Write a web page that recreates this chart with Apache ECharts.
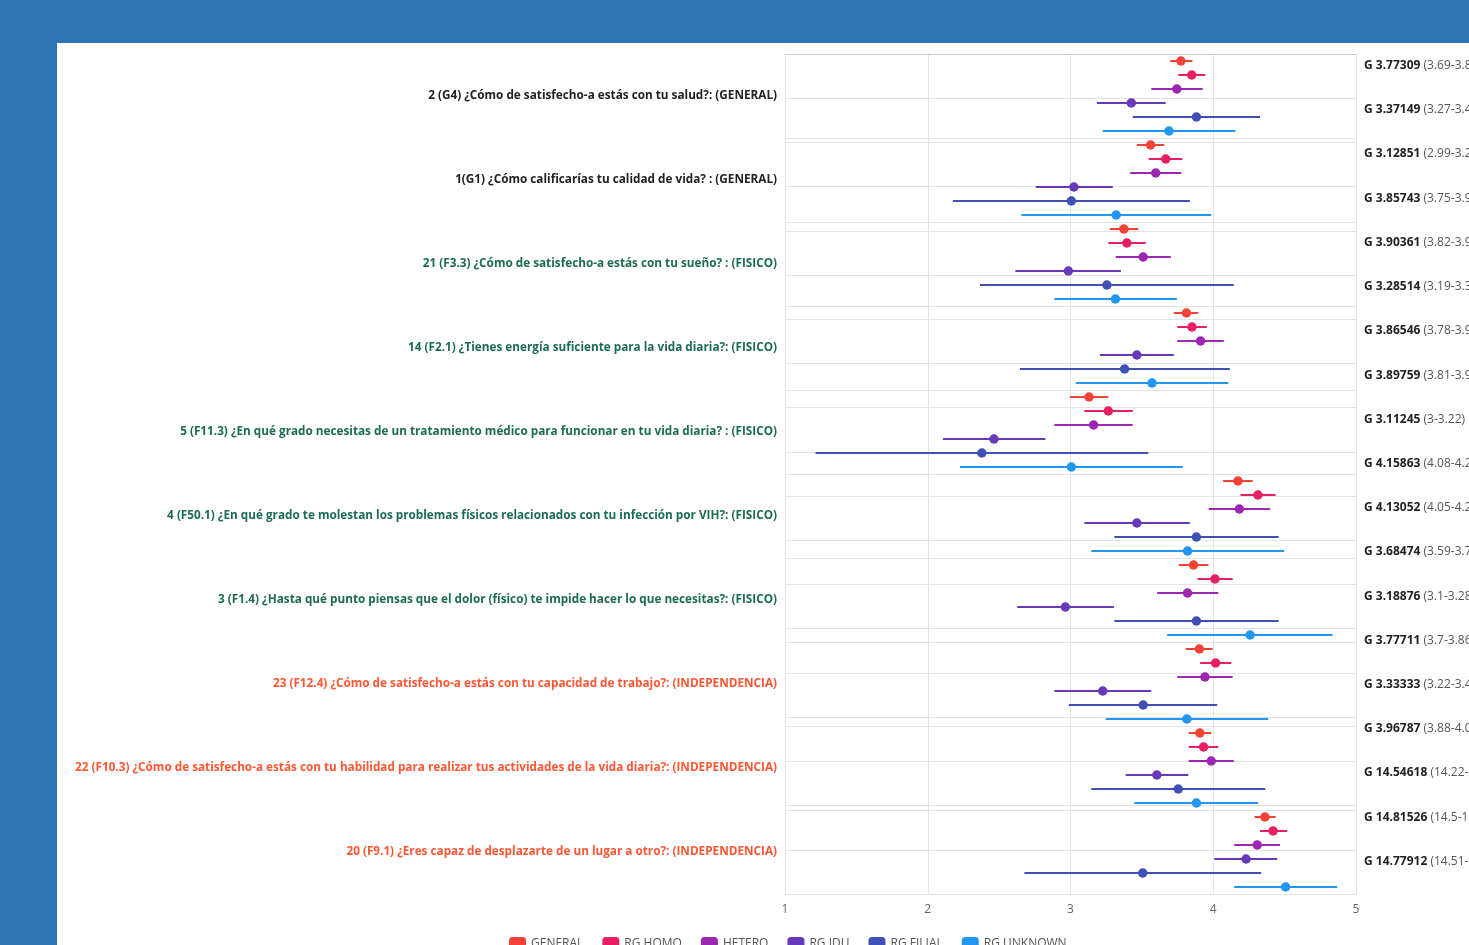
<!DOCTYPE html>
<html>
<head>
<meta charset="utf-8">
<script src="https://cdn.jsdelivr.net/npm/echarts@6/dist/echarts.min.js"></script>
<style>
  html, body { margin: 0; padding: 0; width: 1469px; height: 945px; overflow: hidden; background: #2E75B6; }
  #panel { position: absolute; left: 57px; top: 43px; width: 1412px; height: 902px; background: #fff; overflow: hidden; }
  #chart { position: absolute; left: 0; top: 0; width: 1412px; height: 930px; }
</style>
</head>
<body>
<div id="panel"><div id="chart"></div></div>
<script>
// Questions (top to bottom)
const questions = [
  '2 (G4) ¿Cómo de satisfecho-a estás con tu salud?: (GENERAL)',
  '1(G1) ¿Cómo calificarías tu calidad de vida? : (GENERAL)',
  '21 (F3.3) ¿Cómo de satisfecho-a estás con tu sueño? : (FISICO)',
  '14 (F2.1) ¿Tienes energía suficiente para la vida diaria?: (FISICO)',
  '5 (F11.3) ¿En qué grado necesitas de un tratamiento médico para funcionar en tu vida diaria? : (FISICO)',
  '4 (F50.1) ¿En qué grado te molestan los problemas físicos relacionados con tu infección por VIH?: (FISICO)',
  '3 (F1.4) ¿Hasta qué punto piensas que el dolor (físico) te impide hacer lo que necesitas?: (FISICO)',
  '23 (F12.4) ¿Cómo de satisfecho-a estás con tu capacidad de trabajo?: (INDEPENDENCIA)',
  '22 (F10.3) ¿Cómo de satisfecho-a estás con tu habilidad para realizar tus actividades de la vida diaria?: (INDEPENDENCIA)',
  '20 (F9.1) ¿Eres capaz de desplazarte de un lugar a otro?: (INDEPENDENCIA)'
];
const questionDomain = ['GENERAL','GENERAL','FISICO','FISICO','FISICO','FISICO','FISICO','INDEPENDENCIA','INDEPENDENCIA','INDEPENDENCIA'];

const groups = ['GENERAL', 'RG HOMO', 'HETERO', 'RG IDU', 'RG FILIAL', 'RG UNKNOWN'];

// [low, mean, high] per question, for each group
const GENERAL = [[3.698,3.773,3.854],[3.465,3.561,3.657],[3.276,3.374,3.475],[3.724,3.812,3.895],[2.996,3.130,3.265],[4.069,4.173,4.276],[3.758,3.862,3.966],[3.807,3.903,3.996],[3.828,3.906,3.986],[4.289,4.362,4.437]];
const RG_HOMO = [[3.755,3.849,3.945],[3.548,3.667,3.784],[3.265,3.395,3.527],[3.748,3.851,3.955],[3.097,3.265,3.436],[4.191,4.313,4.437],[3.890,4.012,4.136],[3.908,4.017,4.126],[3.828,3.932,4.035],[4.328,4.419,4.518]];
const HETERO = [[3.566,3.745,3.926],[3.418,3.597,3.776],[3.317,3.509,3.703],[3.748,3.911,4.074],[2.887,3.162,3.436],[3.968,4.183,4.398],[3.607,3.820,4.035],[3.748,3.942,4.136],[3.828,3.986,4.144],[4.147,4.308,4.468]];
const RG_IDU = [[3.185,3.426,3.667],[2.757,3.024,3.296],[2.614,2.985,3.353],[3.206,3.465,3.724],[2.106,2.464,2.824],[3.097,3.465,3.836],[2.627,2.964,3.304],[2.887,3.226,3.566],[3.387,3.605,3.825],[4.007,4.230,4.448]];
const RG_FILIAL = [[3.436,3.882,4.328],[2.176,3.006,3.836],[2.366,3.255,4.144],[2.646,3.379,4.116],[1.214,2.379,3.545],[3.307,3.882,4.458],[3.307,3.882,4.458],[2.988,3.509,4.028],[3.146,3.755,4.365],[2.677,3.506,4.336]];
const RG_UNKNOWN = [[3.226,3.690,4.155],[2.656,3.320,3.986],[2.887,3.315,3.745],[3.037,3.571,4.105],[2.226,3.006,3.786],[3.146,3.820,4.497],[3.677,4.258,4.836],[3.247,3.815,4.385],[3.447,3.882,4.315],[4.147,4.507,4.868]];
const groupData = [GENERAL, RG_HOMO, HETERO, RG_IDU, RG_FILIAL, RG_UNKNOWN];

// Right-side labels
const rightMeans = ['G 3.77309','G 3.37149','G 3.12851','G 3.85743','G 3.90361','G 3.28514','G 3.86546','G 3.89759','G 3.11245','G 4.15863','G 4.13052','G 3.68474','G 3.18876','G 3.77711','G 3.33333','G 3.96787','G 14.54618','G 14.81526','G 14.77912'];
const rightRanges = ['(3.69-3.86)','(3.27-3.47)','(2.99-3.27)','(3.75-3.96)','(3.82-3.99)','(3.19-3.38)','(3.78-3.95)','(3.81-3.99)','(3-3.22)','(4.08-4.24)','(4.05-4.21)','(3.59-3.78)','(3.1-3.28)','(3.7-3.86)','(3.22-3.44)','(3.88-4.05)','(14.22-14.87)','(14.5-15.13)','(14.51-15.05)'];

const xTicks = [1, 2, 3, 4, 5];

const colors = ['#F44336', '#E91E63', '#9C27B0', '#673AB7', '#3F51B5', '#2196F3'];
const domainColors = { GENERAL: '#222222', FISICO: '#1B6B55', INDEPENDENCIA: '#FF5733' };
const nGroups = groups.length;
const nRows = questions.length * nGroups;

const series = [];
groups.forEach((g, gi) => {
  const pts = groupData[gi].map((d, qi) => [d[1], qi * nGroups + gi + 0.5]);
  const bars = groupData[gi].map((d, qi) => [d[0], d[2], qi * nGroups + gi + 0.5]);
  series.push({
    name: g, type: 'custom', xAxisIndex: 0, yAxisIndex: 2,
    data: bars, z: 3,
    renderItem: function (params, api) {
      const a = api.coord([api.value(0), api.value(2)]);
      const b = api.coord([api.value(1), api.value(2)]);
      return { type: 'line', shape: { x1: a[0], y1: a[1], x2: b[0], y2: b[1] },
        style: { stroke: colors[gi], lineWidth: 2 } };
    },
    encode: { x: [0, 1], y: 2 },
    silent: true
  });
  series.push({
    name: g, type: 'scatter', xAxisIndex: 0, yAxisIndex: 2,
    data: pts, symbol: 'circle', symbolSize: 9.5, z: 4,
    itemStyle: { color: colors[gi], opacity: 1 }
  });
});

const chart = echarts.init(document.getElementById('chart'));
chart.setOption({
  animation: false,
  color: colors,
  textStyle: { fontFamily: 'Open Sans' },
  grid: { left: 728, top: 11, width: 571, height: 840, containLabel: false, outerBoundsMode: 'none' },
  legend: {
    data: groups.map((g, i) => ({ name: g, icon: 'roundRect', itemStyle: { color: colors[i] } })),
    left: 447, top: 889, itemWidth: 17, itemHeight: 14, itemGap: 19,
    textStyle: { color: '#555', fontSize: 12, fontFamily: 'Open Sans' }
  },
  xAxis: {
    type: 'value', min: 1, max: 5, interval: 1,
    axisLine: { show: true, lineStyle: { color: '#cccccc' } },
    axisTick: { show: false },
    axisLabel: { color: '#666', fontSize: 12, margin: 10, formatter: v => xTicks.includes(v) ? String(v) : '' },
    splitLine: { show: true, lineStyle: { color: '#e3e3e3' } }
  },
  yAxis: [
    {
      type: 'category', data: questions, inverse: true, position: 'left',
      axisLine: { show: false }, axisTick: { show: false },
      axisLabel: {
        interval: 0, fontSize: 11.75, fontWeight: 'bold', margin: 8, padding: [2, 0, 0, 0],
        color: (v, i) => domainColors[questionDomain[i]]
      },
      splitLine: { show: true, lineStyle: { color: '#e3e3e3' } }
    },
    {
      type: 'category', data: rightMeans, inverse: true, position: 'right',
      axisLine: { show: false }, axisTick: { show: false },
      axisLabel: {
        interval: 0, margin: 8, padding: [0, 0, 21, 0],
        formatter: (v, i) => '{b|' + v + '} {n|' + rightRanges[i] + '}',
        rich: {
          b: { fontWeight: 'bold', fontSize: 12, color: '#222', fontFamily: 'Open Sans' },
          n: { fontSize: 12, color: '#555', fontFamily: 'Open Sans' }
        }
      },
      splitLine: { show: true, lineStyle: { color: '#e3e3e3' } }
    },
    {
      type: 'value', min: 0, max: nRows, inverse: true, show: false
    }
  ],
  series: series
});
</script>
</body>
</html>
